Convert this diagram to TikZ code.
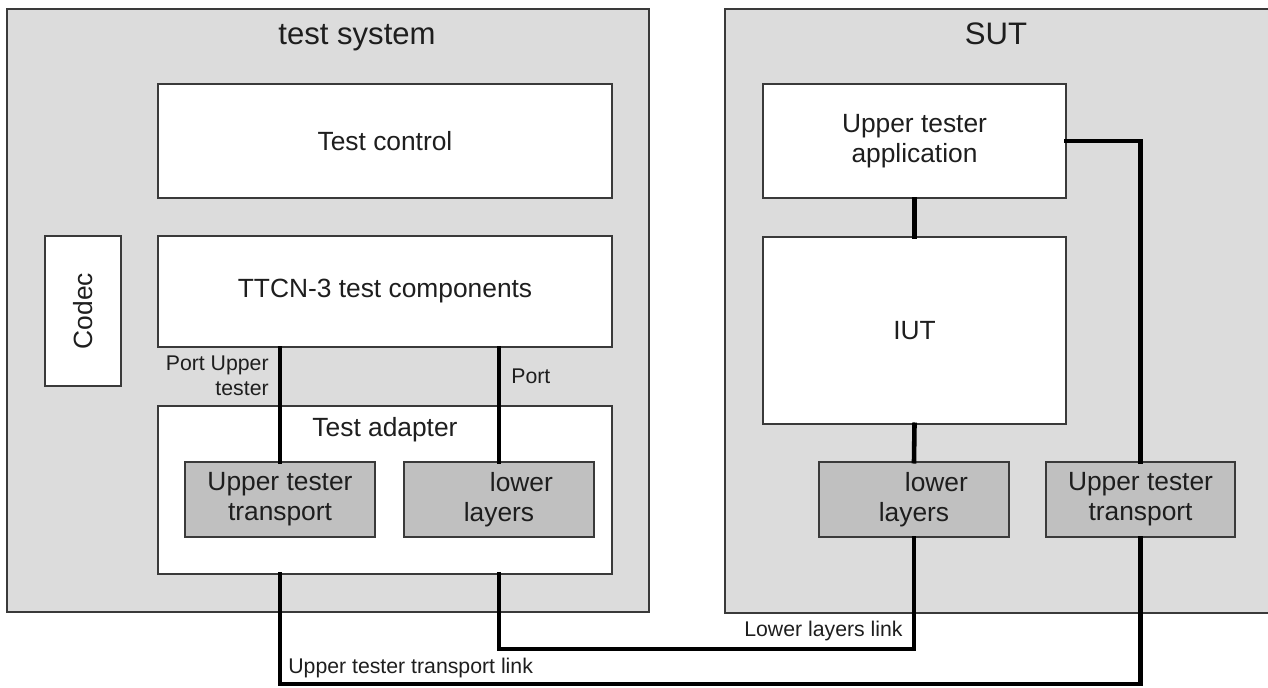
\documentclass[tikz,border=0pt]{standalone}
\usepackage{fontspec}
\setmainfont{Liberation Sans}
\definecolor{sysgrey}{HTML}{DCDCDC}
\definecolor{layergrey}{HTML}{C0C0C0}
\definecolor{edgegrey}{HTML}{3A3A3A}
\definecolor{txtgrey}{HTML}{1E1E1E}
\tikzset{
  sysbox/.style={draw=edgegrey,fill=sysgrey,line width=0.9pt,inner sep=0pt},
  box/.style={draw=edgegrey,fill=white,line width=0.9pt,inner sep=0pt,align=center,
    text=txtgrey,font=\fontsize{15}{17}\selectfont},
  layerbox/.style={box,fill=layergrey,minimum width=3.8cm,minimum height=1.5cm},
  link/.style={line width=2.6pt,line cap=rect,line join=miter},
  title/.style={text=txtgrey,anchor=base,font=\fontsize{17.7}{20}\selectfont},
  small/.style={text=txtgrey,inner sep=0pt,font=\fontsize{12.1}{14.5}\selectfont}
}
\begin{document}
\begin{tikzpicture}[x=0.02cm,y=-0.02cm]
		\useasboundingbox (0,0) rectangle (1268,687);
		% the two systems
		\node[sysbox,minimum width=12.84cm,minimum height=12.06cm] (ts) at (328,310.5) {};
		\node[sysbox,minimum width=11cm,minimum height=12.08cm] (sut) at (1000,311) {};
		\node[title] (tstitle) at (357,44) {test system};
		\node[title] (suttitle) at (996,44) {SUT};
		% test system
		\node[box,minimum width=9.08cm,minimum height=2.28cm] (tc) at (385,141) {Test control};
		\node[box,minimum width=1.52cm,minimum height=3cm] (codec) at (83,311) {};
		\node[text=txtgrey,rotate=90,font=\fontsize{15}{17}\selectfont] (codectext) at (codec.center) {Codec};
		\node[box,minimum width=9.08cm,minimum height=2.22cm] (ttcn) at (385,291.5) {TTCN-3 test components};
		\node[box,minimum width=9.08cm,minimum height=3.36cm] (ta) at (385,490) {};
		\node[text=txtgrey,font=\fontsize{15}{17}\selectfont] (talabel) at (385,430) {Test adapter};
		\node[layerbox] (utt) at (280,499.5) {Upper tester\\transport};
		\node[layerbox] (ll) at (499,499.5) {\hspace*{1.7em}lower\\layers};
		% SUT
		\node[box,minimum width=6.06cm,minimum height=2.28cm] (uta) at (914.5,141) {Upper tester\\application};
		\node[box,minimum width=6.06cm,minimum height=3.74cm] (iut) at (914.5,330.5) {IUT};
		\node[layerbox] (sll) at (914,499.5) {\hspace*{1.7em}lower\\layers};
		\node[layerbox,minimum width=3.78cm] (sutt) at (1140.5,499.5) {Upper tester\\transport};
		% ports and links
		\node[small,anchor=east,align=right] (portut) at (269,376) {Port Upper\\tester};
		\node[small,anchor=west] (portll) at (511,376) {Port};
		\coordinate (lbot) at (0,649);
		\coordinate (ubot) at (0,684);
		\draw[link] (utt.north) -- (utt.north |- ttcn.south);
		\draw[link] (ll.north) -- (ll.north |- ttcn.south);
		\draw[link] (uta.south) -- (iut.north);
		\draw[link] (iut.south) -- (sll.north);
		\draw[link] (uta.east) -- (uta.east -| sutt.north) -- (sutt.north);
		\draw[link] (ll.south |- ta.south) -- (ll.south |- lbot) -- (sll.south |- lbot) -- (sll.south);
		\draw[link] (sutt.south) -- (sutt.south |- ubot) -- (utt.south |- ubot) -- (utt.south |- ta.south);
		\node[small,anchor=east] (lllabel) at (903,631) {Lower layers link};
		\node[small,anchor=west] (utlabel) at (288,668) {Upper tester transport link};
\end{tikzpicture}
\end{document}
